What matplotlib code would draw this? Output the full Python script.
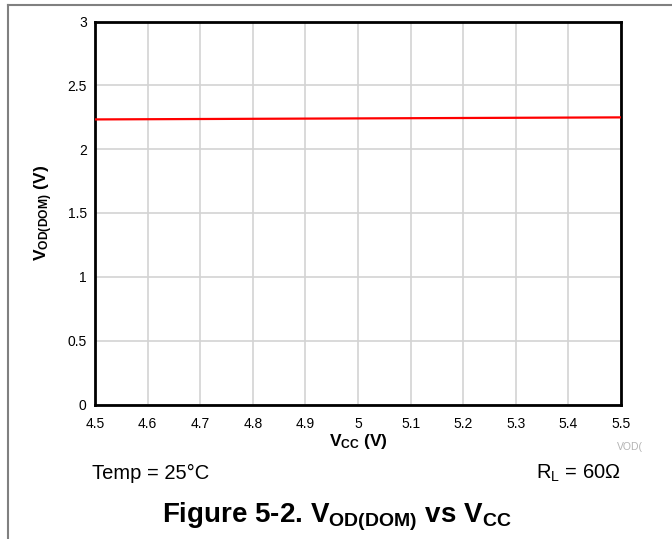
import matplotlib
matplotlib.use("Agg")
from matplotlib import pyplot as plt
from matplotlib.lines import Line2D
import numpy as np

plt.rcParams['font.family'] = ['Liberation Sans', 'DejaVu Sans']
plt.rcParams['mathtext.fontset'] = 'custom'
plt.rcParams['mathtext.rm'] = 'Liberation Sans'
plt.rcParams['mathtext.bf'] = 'Liberation Sans:bold'
plt.rcParams['mathtext.it'] = 'Liberation Sans:italic'

## DATA ##
vcc = [4.5, 4.75, 5.0, 5.25, 5.5]
vod_dom = [2.233, 2.237, 2.241, 2.245, 2.249]

x_ticks = [4.5, 4.6, 4.7, 4.8, 4.9, 5.0, 5.1, 5.2, 5.3, 5.4, 5.5]
y_ticks = [0, 0.5, 1, 1.5, 2, 2.5, 3]


## PLOT ##
fig = plt.figure(figsize=(6.72, 5.39), dpi=100)
ax = fig.add_axes([95 / 672, 1 - 404.5 / 539, 526 / 672, 383 / 539])

ax.plot(vcc, vod_dom, color='#ff0000', lw=1.6, zorder=3)

ax.set_xlim(4.5, 5.5)
ax.set_ylim(0, 3)
ax.set_xticks(x_ticks)
ax.set_yticks(y_ticks)
ax.set_xticklabels(['%g' % t for t in x_ticks])
ax.set_yticklabels(['%g' % t for t in y_ticks])
ax.tick_params(length=0, labelsize=10)
ax.tick_params(axis='x', pad=9)
ax.tick_params(axis='y', pad=6)
ax.grid(True, color='#d3d3d3', lw=1.2)
ax.set_axisbelow(True)
for s in ax.spines.values():
    s.set_linewidth(2)
    s.set_color('black')

ax.set_xlabel(r'$\mathbf{V}_{\mathbf{CC}}$ (V)', fontsize=12.5,
              fontweight='bold', labelpad=1)
ax.set_ylabel(r'$\mathbf{V}_{\mathbf{OD(DOM)}}$ (V)', fontsize=12.5,
              fontweight='bold')
ax.yaxis.set_label_coords(-40 / 526, 0.5)

# file tag, condition notes and caption
fig.text(617 / 672, 1 - 447 / 539, 'VOD(', fontsize=7.5, color='#b4b4b4',
         ha='left', va='center')
fig.text(92 / 672, 1 - 473 / 539, 'Temp = 25°C', fontsize=14.5,
         ha='left', va='center')
fig.text(621 / 672, 1 - 473 / 539, r'R$_\mathrm{L}$ = 60Ω', fontsize=14.5,
         ha='right', va='center')
fig.text(337 / 672, 1 - 517 / 539,
         r'Figure 5-2. $\mathbf{V}_{\mathbf{OD(DOM)}}$ vs $\mathbf{V}_{\mathbf{CC}}$',
         fontsize=20, fontweight='bold', ha='center', va='center')

# page frame lines
fig.add_artist(Line2D([8 / 672, 1], [1 - 4.5 / 539] * 2, color='#808080', lw=1.5))
fig.add_artist(Line2D([7.5 / 672] * 2, [0, 1 - 4.5 / 539], color='#808080', lw=1.5))

fig.savefig("out.png", dpi=100)
